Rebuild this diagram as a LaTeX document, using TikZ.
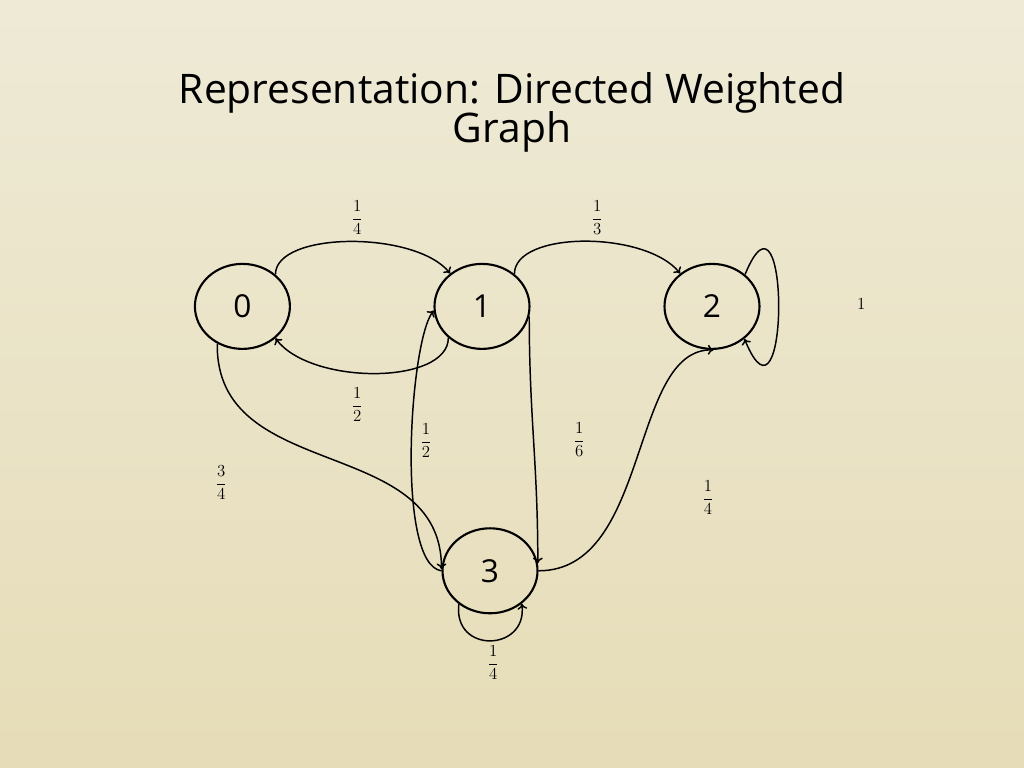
\documentclass[tikz,border=0pt]{standalone}
\usepackage{amsmath}
\usepackage{fontspec}
\newfontfamily\slidefont{Open Sans}
\usepackage{tikz}
\usetikzlibrary{shapes,backgrounds,calc}
\usetikzlibrary{arrows.meta}
\usetikzlibrary{positioning}
\definecolor{paperTop}{RGB}{238,234,214}
\definecolor{paperMid}{RGB}{243,238,206}
\definecolor{paperBot}{RGB}{230,220,183}
\tikzset{
    stateNode/.style={
        ,   ellipse
        ,   draw=black
        ,   line width=1.5pt
        ,   minimum width=2.375cm
        ,   minimum height=2.125cm
        ,   inner sep=0pt
        ,   font=\slidefont\fontsize{22.5}{24}\selectfont
    },
    weightLabel/.style={
        ,   inner sep=0pt
        ,   font=\fontsize{12.5}{14}\selectfont
    },
    titleText/.style={
        ,   anchor=base
        ,   inner sep=0pt
        ,   font=\slidefont\fontsize{29}{29}\selectfont
    },
    transEdge/.style={
        ,   line width=1.05pt
        ,   -{To[length=4pt,width=7pt]}
    },
}

\begin{document}
\begin{tikzpicture}
\shade[top color=paperTop, middle color=paperMid, bottom color=paperBot] (0,0) rectangle (25.6,19.2);
\useasboundingbox (0,0) rectangle (25.6,19.2);

\node[titleText] (T1) at (12.8,16.61) {Representation: Directed Weighted};
\node[titleText] (T2) at (12.8,15.63) {Graph};

\foreach \n/\x/\y in {0/6.06/11.54, 1/12.05/11.54, 2/17.80/11.54, 3/12.25/4.93}{
  \node[stateNode] (N\n) at (\x,\y) {\n};
}

% upper arcs
\draw[transEdge] (N0.44) .. controls +(0,1.08) and +(-0.88,1.08) .. (N1.134);
\draw[transEdge] (N1.45) .. controls +(0,1.08) and +(-0.88,1.08) .. (N2.134);
\draw[transEdge] (N1.-137) .. controls +(0,-1.18) and +(0.88,-1.18) .. (N0.-44);
\draw[transEdge] (N2.44) .. controls +(1.13,2.75) and +(1.13,-2.75) .. (N2.-45); % loop at 2

% edges into and out of 3
\draw[transEdge] (N0.-124) .. controls +(-0.05,-3.5) and +(0,3.38) .. (N3.178);
\draw[transEdge] (N3.180) .. controls +(-1.15,0.15) and +(-0.6,-0.75) .. (N1.185);
\draw[transEdge] (N1.-12) .. controls +(0,-2.5) and +(0,2.5) .. (N3.9);
\draw[transEdge] (N3.0) .. controls +(2.8,0) and +(-2.1,0.05) .. (N2.-88);
\draw[transEdge] (N3.-133) .. controls +(-0.15,-1.25) and +(0.15,-1.2) .. (N3.-46); % loop at 3

\foreach \lab/\x/\y/\w in {a/8.93/13.75/{\dfrac{1}{4}}, b/14.93/13.75/{\dfrac{1}{3}},
    c/21.53/11.6/{1}, d/8.93/9.08/{\dfrac{1}{2}}, e/10.65/8.18/{\dfrac{1}{2}},
    f/14.48/8.2/{\dfrac{1}{6}}, g/5.53/7.13/{\dfrac{3}{4}}, h/17.7/6.75/{\dfrac{1}{4}},
    i/12.33/2.63/{\dfrac{1}{4}}}{
  \node[weightLabel] (W\lab) at (\x,\y) {$\w$};
}
\end{tikzpicture}
\end{document}
